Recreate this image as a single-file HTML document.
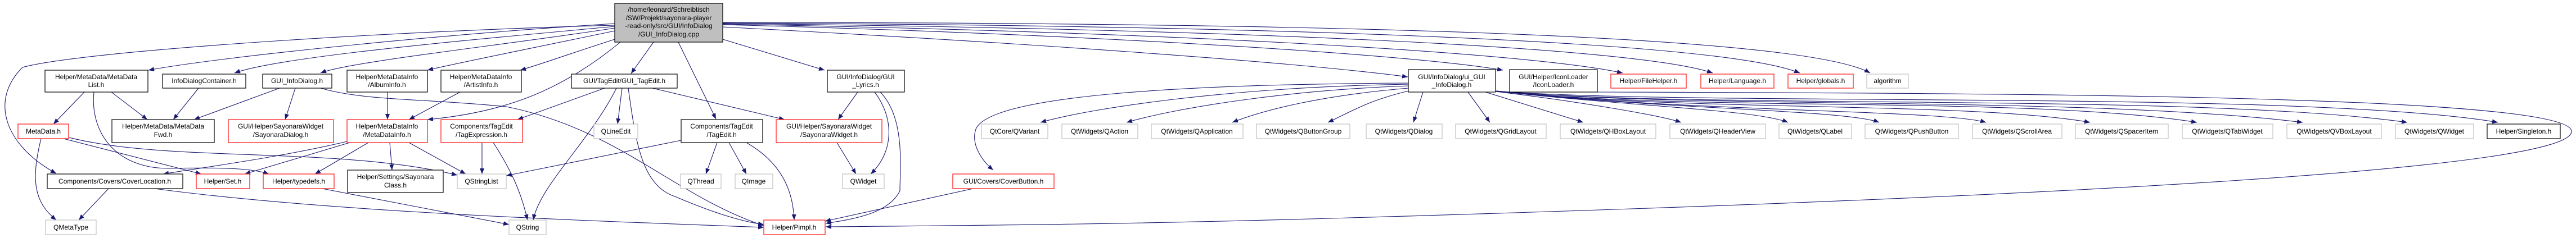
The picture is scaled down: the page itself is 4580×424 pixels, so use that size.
<!DOCTYPE html>
<html><head><meta charset="utf-8"><style>
html,body{margin:0;padding:0;background:#fff;}
svg{display:block;}
text{font-family:"Liberation Sans",Arial,sans-serif;font-size:12px;fill:#000;text-anchor:middle;}
.b{fill:#fff;stroke:#000;stroke-width:1.2;}
.d{fill:#fff;stroke:#404040;stroke-width:1.6;}
.r{fill:#fff;stroke:#ff3030;stroke-width:1.4;}
.g{fill:#fff;stroke:#c0c0c0;stroke-width:1.2;}
.e{fill:none;stroke:#191970;stroke-width:1.1;marker-end:url(#a);}
</style></head><body>
<svg width="4580" height="424" viewBox="0 0 4580 424" xmlns="http://www.w3.org/2000/svg">
<defs><marker id="a" markerUnits="userSpaceOnUse" markerWidth="11" markerHeight="8" refX="10" refY="4" orient="auto"><path d="M0,0 L10,4 L0,8 z" fill="#191970"/></marker></defs>

<!-- edges from root -->
<g>
<path class="e" d="M1093,45 C700,55 150,90 40,120 C-20,180 10,260 100,309"/>
<path class="e" d="M1093,42 C800,60 400,100 264,125"/>
<path class="e" d="M1093,47 C850,70 500,100 417,130"/>
<path class="e" d="M1093,50 C900,80 620,110 570,130"/>
<path class="e" d="M1093,55 C950,85 800,115 760,125"/>
<path class="e" d="M1093,70 C1000,100 960,115 925,125"/>
<path class="e" d="M1103,75 C1000,160 900,200 760,213"/>
<path class="e" d="M1162,75 L1122,131"/>
<path class="e" d="M1206,75 L1273,212"/>
<path class="e" d="M1285,70 L1466,125"/>
<path class="e" d="M1285,48 C1800,75 2300,110 2503,137"/>
<path class="e" d="M1285,44 C1900,60 2500,95 2672,125"/>
<path class="e" d="M1285,43 C2000,55 2700,90 2885,130"/>
<path class="e" d="M1285,42 C2100,50 2900,80 3045,130"/>
<path class="e" d="M1285,41 C2200,45 3050,70 3200,130"/>
<path class="e" d="M1285,40 C2300,40 3200,60 3325,130"/>
</g>
<!-- middle edges -->
<g>
<path class="e" d="M150,164 L95,221"/>
<path class="e" d="M198,164 L262,213"/>
<path class="e" d="M167,164 C160,230 200,300 300,300 C400,298 450,300 478,310"/>
<path class="e" d="M353,157 L308,213"/>
<path class="e" d="M497,157 L345,213"/>
<path class="e" d="M525,157 L507,213"/>
<path class="e" d="M570,157 C650,180 750,175 900,190 C1100,230 1200,350 1358,402"/>
<path class="e" d="M689,164 L689,213"/>
<path class="e" d="M818,164 L727,213"/>
<path class="e" d="M617,252 C500,280 350,300 290,310"/>
<path class="e" d="M622,254 L435,310"/>
<path class="e" d="M655,254 L560,310"/>
<path class="e" d="M693,254 L697,303"/>
<path class="e" d="M727,254 L828,310"/>
<path class="e" d="M857,254 L857,310"/>
<path class="e" d="M877,254 C920,320 930,360 938,392"/>
<path class="e" d="M1075,157 L920,213"/>
<path class="e" d="M1096,157 C1050,250 960,330 948,392"/>
<path class="e" d="M1106,157 L1098,221"/>
<path class="e" d="M1117,157 C1130,250 1140,330 1200,350 C1270,380 1320,395 1358,400"/>
<path class="e" d="M1160,157 L1395,213"/>
<path class="e" d="M1211,250 L900,313"/>
<path class="e" d="M73,247 C55,320 60,360 100,392"/>
<path class="e" d="M113,247 L358,310"/>
<path class="e" d="M123,245 C300,290 600,260 813,312"/>
<path class="e" d="M193,336 L140,392"/>
<path class="e" d="M275,336 C600,380 1100,395 1358,405"/>
<path class="e" d="M573,336 L905,400"/>
<path class="e" d="M1275,254 L1255,310"/>
<path class="e" d="M1296,254 L1327,310"/>
<path class="e" d="M1327,254 C1390,290 1410,340 1412,392"/>
<path class="e" d="M1488,254 L1522,310"/>
<path class="e" d="M1525,164 L1490,213"/>
<path class="e" d="M1555,164 C1590,210 1590,270 1548,310"/>
<path class="e" d="M1565,164 C1610,210 1600,300 1600,340 C1580,380 1520,390 1468,398"/>
<path class="e" d="M1730,336 L1467,394"/>
<path class="e" d="M2840,164 C3600,166 4560,170 4572,233 C4582,300 3700,350 2400,388 C2000,400 1700,402 1468,404"/>
</g>
<!-- ui edges -->
<g>
<path class="e" d="M2504,148 C2100,150 1760,170 1735,230 C1725,260 1750,290 1766,303"/>
<path class="e" d="M2504,150 C2200,155 1950,190 1850,218"/>
<path class="e" d="M2504,153 C2300,160 2100,190 2003,218"/>
<path class="e" d="M2504,157 C2350,170 2250,195 2191,218"/>
<path class="e" d="M2504,162 C2430,180 2400,200 2361,218"/>
<path class="e" d="M2530,164 L2513,218"/>
<path class="e" d="M2610,164 L2649,218"/>
<path class="e" d="M2641,164 L2815,218"/>
<path class="e" d="M2659,163 C2800,180 2950,205 2989,218"/>
<path class="e" d="M2659,162 C2900,190 3120,195 3179,218"/>
<path class="e" d="M2659,162 C2950,195 3280,195 3341,218"/>
<path class="e" d="M2659,162 C3000,200 3450,195 3531,218"/>
<path class="e" d="M2659,162 C3000,200 3500,180 3716,218"/>
<path class="e" d="M2659,162 C3000,200 3600,170 3906,218"/>
<path class="e" d="M2659,162 C3000,195 3700,170 4094,218"/>
<path class="e" d="M2659,162 C3000,195 3900,165 4280,218"/>
<path class="e" d="M2659,162 C3000,190 4100,160 4441,218"/>
</g>

<!-- nodes -->
<rect x="1093" y="6" width="192" height="69" fill="#bfbfbf" stroke="#000" stroke-width="1.2"/>
<text x="1189" y="21">/home/leonard/Schreibtisch</text>
<text x="1189" y="36">/SW/Projekt/sayonara-player</text>
<text x="1189" y="50">-read-only/src/GUI/InfoDialog</text>
<text x="1189" y="65">/GUI_InfoDialog.cpp</text>

<rect class="b" x="80" y="125" width="183" height="39"/><text x="171" y="141">Helper/MetaData/MetaData</text><text x="171" y="155">List.h</text>
<rect class="b" x="289" y="132" width="148" height="25"/><text x="363" y="148">InfoDialogContainer.h</text>
<rect class="b" x="467" y="132" width="123" height="25"/><text x="528" y="148">GUI_InfoDialog.h</text>
<rect class="b" x="617" y="125" width="143" height="39"/><text x="688" y="141">Helper/MetaDataInfo</text><text x="688" y="155">/AlbumInfo.h</text>
<rect class="b" x="784" y="125" width="143" height="39"/><text x="855" y="141">Helper/MetaDataInfo</text><text x="855" y="155">/ArtistInfo.h</text>
<rect class="b" x="1016" y="132" width="188" height="25"/><text x="1110" y="148">GUI/TagEdit/GUI_TagEdit.h</text>
<rect class="b" x="1471" y="125" width="137" height="39"/><text x="1539" y="141">GUI/InfoDialog/GUI</text><text x="1539" y="155">_Lyrics.h</text>
<rect class="b" x="2504" y="124" width="155" height="40"/><text x="2581" y="141">GUI/InfoDialog/ui_GUI</text><text x="2581" y="155">_InfoDialog.h</text>
<rect class="b" x="2684" y="124" width="156" height="40"/><text x="2762" y="141">GUI/Helper/IconLoader</text><text x="2762" y="155">/IconLoader.h</text>
<rect class="r" x="2864" y="132" width="134" height="25"/><text x="2931" y="148">Helper/FileHelper.h</text>
<rect class="r" x="3024" y="132" width="130" height="25"/><text x="3089" y="148">Helper/Language.h</text>
<rect class="r" x="3179" y="132" width="116" height="25"/><text x="3237" y="148">Helper/globals.h</text>
<rect class="g" x="3319" y="132" width="74" height="25"/><text x="3356" y="148">algorithm</text>

<rect class="r" x="32" y="221" width="90" height="26"/><text x="77" y="238">MetaData.h</text>
<rect class="d" x="199" y="213" width="182" height="41"/><text x="290" y="229">Helper/MetaData/MetaData</text><text x="290" y="244">Fwd.h</text>
<rect class="r" x="406" y="213" width="187" height="41"/><text x="499" y="229">GUI/Helper/SayonaraWidget</text><text x="499" y="244">/SayonaraDialog.h</text>
<rect class="r" x="617" y="213" width="143" height="41"/><text x="688" y="229">Helper/MetaDataInfo</text><text x="688" y="244">/MetaDataInfo.h</text>
<rect class="r" x="784" y="213" width="145" height="41"/><text x="856" y="229">Components/TagEdit</text><text x="856" y="244">/TagExpression.h</text>
<rect class="g" x="1056" y="221" width="78" height="26"/><text x="1095" y="238">QLineEdit</text>
<rect class="d" x="1211" y="213" width="145" height="41"/><text x="1283" y="229">Components/TagEdit</text><text x="1283" y="244">/TagEdit.h</text>
<rect class="r" x="1380" y="213" width="188" height="41"/><text x="1474" y="229">GUI/Helper/SayonaraWidget</text><text x="1474" y="244">/SayonaraWidget.h</text>

<rect class="g" x="1745" y="221" width="118" height="26"/><text x="1804" y="238">QtCore/QVariant</text>
<rect class="g" x="1888" y="221" width="135" height="26"/><text x="1955" y="238">QtWidgets/QAction</text>
<rect class="g" x="2047" y="221" width="163" height="26"/><text x="2128" y="238">QtWidgets/QApplication</text>
<rect class="g" x="2234" y="221" width="166" height="26"/><text x="2317" y="238">QtWidgets/QButtonGroup</text>
<rect class="g" x="2429" y="221" width="135" height="26"/><text x="2496" y="238">QtWidgets/QDialog</text>
<rect class="g" x="2588" y="221" width="161" height="26"/><text x="2668" y="238">QtWidgets/QGridLayout</text>
<rect class="g" x="2774" y="221" width="170" height="26"/><text x="2859" y="238">QtWidgets/QHBoxLayout</text>
<rect class="g" x="2969" y="221" width="170" height="26"/><text x="3054" y="238">QtWidgets/QHeaderView</text>
<rect class="g" x="3163" y="221" width="129" height="26"/><text x="3227" y="238">QtWidgets/QLabel</text>
<rect class="g" x="3316" y="221" width="166" height="26"/><text x="3399" y="238">QtWidgets/QPushButton</text>
<rect class="g" x="3507" y="221" width="159" height="26"/><text x="3586" y="238">QtWidgets/QScrollArea</text>
<rect class="g" x="3690" y="221" width="165" height="26"/><text x="3772" y="238">QtWidgets/QSpacerItem</text>
<rect class="g" x="3880" y="221" width="161" height="26"/><text x="3960" y="238">QtWidgets/QTabWidget</text>
<rect class="g" x="4066" y="221" width="168" height="26"/><text x="4150" y="238">QtWidgets/QVBoxLayout</text>
<rect class="g" x="4259" y="221" width="139" height="26"/><text x="4328" y="238">QtWidgets/QWidget</text>
<rect class="b" x="4422" y="221" width="130" height="26"/><text x="4487" y="238">Helper/Singleton.h</text>

<rect class="d" x="84" y="310" width="241" height="26"/><text x="204" y="327">Components/Covers/CoverLocation.h</text>
<rect class="r" x="349" y="310" width="95" height="26"/><text x="396" y="327">Helper/Set.h</text>
<rect class="r" x="468" y="310" width="126" height="26"/><text x="531" y="327">Helper/typedefs.h</text>
<rect class="b" x="618" y="303" width="170" height="40"/><text x="703" y="319">Helper/Settings/Sayonara</text><text x="703" y="334">Class.h</text>
<rect class="g" x="813" y="310" width="87" height="26"/><text x="856" y="327">QStringList</text>
<rect class="g" x="1210" y="310" width="72" height="26"/><text x="1246" y="327">QThread</text>
<rect class="g" x="1307" y="310" width="67" height="26"/><text x="1340" y="327">QImage</text>
<rect class="g" x="1498" y="310" width="74" height="26"/><text x="1535" y="327">QWidget</text>
<rect class="r" x="1694" y="310" width="180" height="26"/><text x="1784" y="327">GUI/Covers/CoverButton.h</text>

<rect class="g" x="81" y="392" width="90" height="26"/><text x="126" y="409">QMetaType</text>
<rect class="g" x="905" y="392" width="66" height="26"/><text x="938" y="409">QString</text>
<rect class="r" x="1358" y="392" width="109" height="26"/><text x="1412" y="409">Helper/Pimpl.h</text>
</svg>
</body></html>
